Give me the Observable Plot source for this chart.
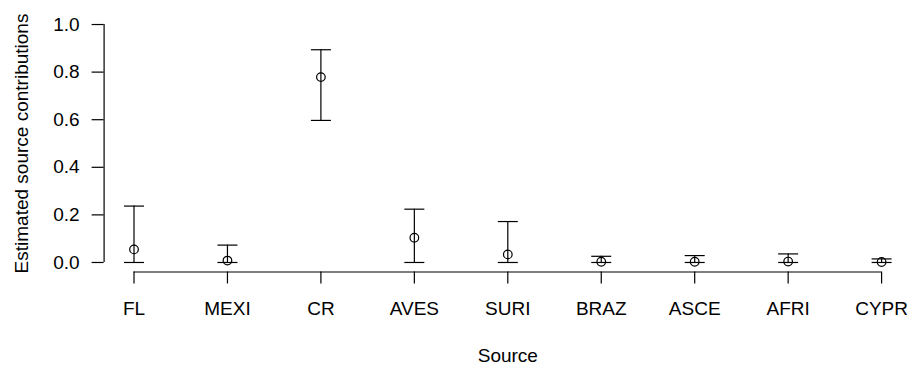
<!DOCTYPE html>
<html><head><meta charset="utf-8">
<script src="https://cdn.jsdelivr.net/npm/d3@7"></script>
<script src="https://cdn.jsdelivr.net/npm/@observablehq/plot@0.6"></script>
<style>html,body{margin:0;padding:0;background:#fff;}</style>
</head><body><div id="chart"></div>
<script>
// Data
const sources = ["FL", "MEXI", "CR", "AVES", "SURI", "BRAZ", "ASCE", "AFRI", "CYPR"];
const estimate = [0.055, 0.008, 0.779, 0.104, 0.034, 0.003, 0.003, 0.004, 0.002];
const lower    = [0.000, 0.000, 0.597, 0.000, 0.000, 0.000, 0.000, 0.000, 0.000];
const upper    = [0.237, 0.073, 0.894, 0.224, 0.172, 0.026, 0.029, 0.036, 0.015];
const yTicks = [0, 0.2, 0.4, 0.6, 0.8, 1.0];
const xTitle = "Source";
const yTitle = "Estimated source contributions";

const data = sources.map((s, i) => ({source: s, idx: i + 1, est: estimate[i], lo: lower[i], hi: upper[i]}));
const n = sources.length;
const xPad = 0.04 * (n - 1);
const xlim = [1 - xPad, n + xPad];
const ylim = [-0.04, 1.04];

// horizontal cap symbol for error bars
const cap = {draw(ctx) { ctx.moveTo(-10, 0); ctx.lineTo(10, 0); }};
const lw = 1.2;

const plot = Plot.plot({
  width: 911,
  height: 368,
  marginLeft: 103.6,
  marginRight: 0,
  marginTop: 14.5,
  marginBottom: 96.5,
  style: {fontFamily: "'Liberation Sans', Arial, Helvetica, sans-serif", fontSize: "19px", color: "black", background: "white"},
  x: {type: "linear", domain: xlim},
  y: {type: "linear", domain: ylim},
  marks: [
    Plot.axisX(data.map(d => d.idx), {tickFormat: i => sources[i - 1], tickSize: 12, tickPadding: 17.5, strokeWidth: lw, label: null}),
    Plot.axisY(yTicks, {tickFormat: d3.format(".1f"), tickSize: 12, tickPadding: 12.5, strokeWidth: lw, label: null}),
    Plot.ruleY([ylim[0]], {x1: 1, x2: n, stroke: "black", strokeWidth: lw}),
    Plot.ruleX([xlim[0]], {y1: yTicks[0], y2: yTicks[yTicks.length - 1], stroke: "black", strokeWidth: lw}),
    Plot.ruleX(data, {x: "idx", y1: "lo", y2: "hi", stroke: "black", strokeWidth: lw}),
    Plot.dot(data, {x: "idx", y: "lo", symbol: cap, stroke: "black", fill: "none", strokeWidth: lw}),
    Plot.dot(data, {x: "idx", y: "hi", symbol: cap, stroke: "black", fill: "none", strokeWidth: lw}),
    Plot.dot(data, {x: "idx", y: "est", r: 4.3, stroke: "black", fill: "none", strokeWidth: lw}),
    Plot.text([yTitle], {frameAnchor: "left", rotate: -90, textAnchor: "middle", lineAnchor: "middle", dx: -82.6, fill: "black"}),
    Plot.text([xTitle], {frameAnchor: "bottom", textAnchor: "middle", lineAnchor: "middle", dy: 84, fill: "black"})
  ]
});
document.getElementById("chart").appendChild(plot);
</script>
</body></html>
